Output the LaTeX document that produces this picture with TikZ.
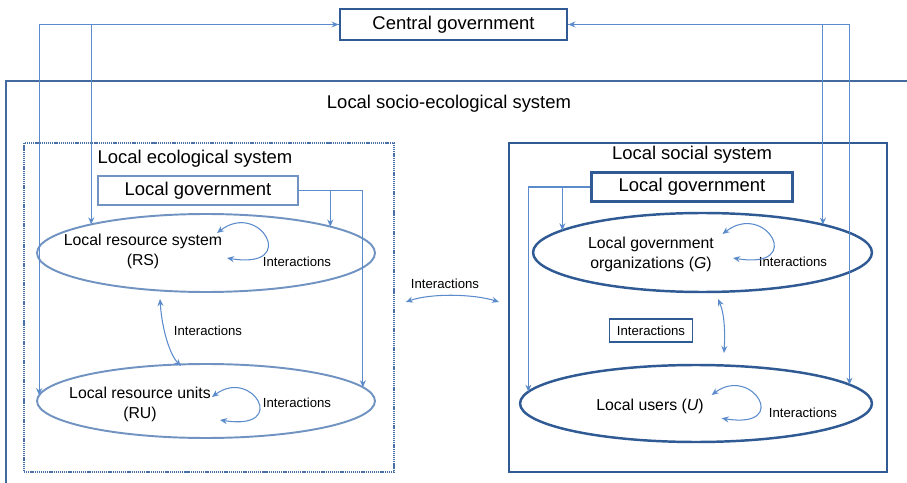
\documentclass[tikz,border=0pt]{standalone}
\usepackage{fontspec}
\setmainfont{Liberation Sans}
\usetikzlibrary{arrows.meta,shapes.geometric}

\definecolor{darkblue}{HTML}{2F5A94}
\definecolor{paleblue}{HTML}{7093C2}
\definecolor{dotblue}{HTML}{4A70A8}
\definecolor{arrowblue}{HTML}{5B8BCB}
\definecolor{boxblue}{HTML}{436A9E}

\tikzset{
	sespicture/.style = {
		x = 0.02cm,
		y = -0.02cm,
		>= {Stealth[length=4pt, width=3.4pt]},
		arrow/.style = {
			draw = arrowblue,
			line width = 0.6pt,
		}
	},
	titletext/.style = {
		font = \fontsize{10.5}{12.6}\selectfont
	},
	govbox/.style = {
		rectangle,
		titletext,
		draw = darkblue,
		line width = 1.6pt,
		inner sep = 0pt,
		minimum height = 0.58cm
	},
	govbox-pale/.style = {
		govbox,
		draw = paleblue,
		line width = 1.3pt
	},
	sysbox/.style = {
		rectangle,
		draw = darkblue,
		line width = 1.2pt,
		inner sep = 0pt,
		minimum height = 6.58cm
	},
	sysbox-pale/.style = {
		sysbox,
		draw = dotblue,
		line width = 1.1pt,
		dash pattern = on 0.7pt off 0.5pt
	},
	partnode/.style = {
		ellipse,
		draw = darkblue,
		line width = 1.4pt,
		inner sep = 0pt,
		outer sep = 0pt
	},
	partnode-pale/.style = {
		partnode,
		draw = paleblue,
		line width = 1.1pt
	},
	parttext/.style = {
		align = center,
		font = \fontsize{9}{11.3}\selectfont
	},
	inttext/.style = {
		font = \fontsize{7.5}{9}\selectfont
	}
}

\begin{document}
\begin{tikzpicture}[sespicture]
	\useasboundingbox (0,0) rectangle (907,483);

	\draw[boxblue, line width = 1.2pt] (907,81) -- (6,81) -- (6,483);
	\node[titletext] (ses) at (449,104) {Local socio-ecological system};

	\node[sysbox-pale, minimum width = 7.4cm] (ecobox) at (209,307.5) {};
	\node[sysbox, minimum width = 7.56cm] (socbox) at (698,307.5) {};
	\node[titletext] (eco) at (195,159) {Local ecological system};
	\node[titletext] (soc) at (692,155) {Local social system};

	\node[govbox, minimum width = 4.54cm, minimum height = 0.62cm] (cg) at (453.5,24.5) {Central government};
	\node[govbox-pale, minimum width = 4cm] (lg1) at (198,190.5) {Local government};
	\node[govbox, minimum width = 4.02cm] (lg2) at (692,187) {Local government};

	\node[partnode-pale, minimum width = 6.76cm, minimum height = 1.56cm] (rs) at (206,253) {};
	\node[partnode-pale, minimum width = 6.76cm, minimum height = 1.48cm] (ru) at (206,401) {};
	\node[partnode, minimum width = 6.78cm, minimum height = 1.58cm] (go) at (702.5,252.5) {};
	\node[partnode, minimum width = 7.04cm, minimum height = 1.54cm] (us) at (696,403.5) {};

	\node[parttext] (rs-text) at (143,251) {Local resource system\\(RS)};
	\node[parttext] (ru-text) at (140,404) {Local resource units\\(RU)};
	\node[parttext] (go-text) at (651,254.5) {Local government\\organizations (\textit{G})};
	\node[parttext] (us-text) at (650,406.5) {Local users (\textit{U})};

	\node[inttext] (rs-int) at (297,262) {Interactions};
	\node[inttext] (ru-int) at (297,403) {Interactions};
	\node[inttext] (rsru-int) at (208,331) {Interactions};
	\node[inttext] (mid-int) at (445,284) {Interactions};
	\node[inttext] (go-int) at (793,262) {Interactions};
	\node[inttext] (us-int) at (803,413) {Interactions};
	\node[inttext, draw = darkblue, line width = 0.9pt, minimum width = 1.66cm, minimum height = 0.46cm] (gous-int) at (651,330.5) {Interactions};

	\begin{scope}[every path/.style = arrow]
		\path[<->] (cg.west) -| (ru.178);
		\path[->] (cg.west) -| (rs.166.7);
		\path[<->] (cg.east) -| (us.7.5);
		\path[->] (cg.east) -| (go.13.2);

		\path[->] (lg1.east) -| (rs.12.9);
		\path[->] (lg1.east) -| (ru.5);
		\path[->] (lg2.west) -| (go.171.7);
		\path[->] (lg2.west) -| (us.176.6);

		\path[<->] ([shift={(11,-20)}]rs.center) .. controls +(43,-33) and +(73,12) .. ([shift={(21,5)}]rs.center);
		\path[<->] ([shift={(20,-18.5)}]go.center) .. controls +(43,-33) and +(73,12) .. ([shift={(30.5,5.5)}]go.center);
		\path[<->] ([shift={(6,-4)}]ru.center) .. controls +(40,-30) and +(70,11) .. ([shift={(14,19)}]ru.center);
		\path[<->] ([shift={(15.7,-8.5)}]us.center) .. controls +(40,-30) and +(70,11) .. ([shift={(25.7,14.8)}]us.center);

		\path[<->] ([shift={(-46,46)}]rs.center) .. controls +(2,31) and +(-11,-11) .. ([shift={(-25,-35)}]ru.center);
		\path[<->] ([shift={(15.5,46.5)}]go.center) .. controls +(7,16) and +(1,-18) .. ([shift={(28,-50.5)}]us.center);
		\path[<->] ([shift={(11,-5.5)}]ecobox.east) .. controls +(25,-9) and +(-25,-8) .. ([shift={(-9,-5.5)}]socbox.west);
	\end{scope}
\end{tikzpicture}
\end{document}
